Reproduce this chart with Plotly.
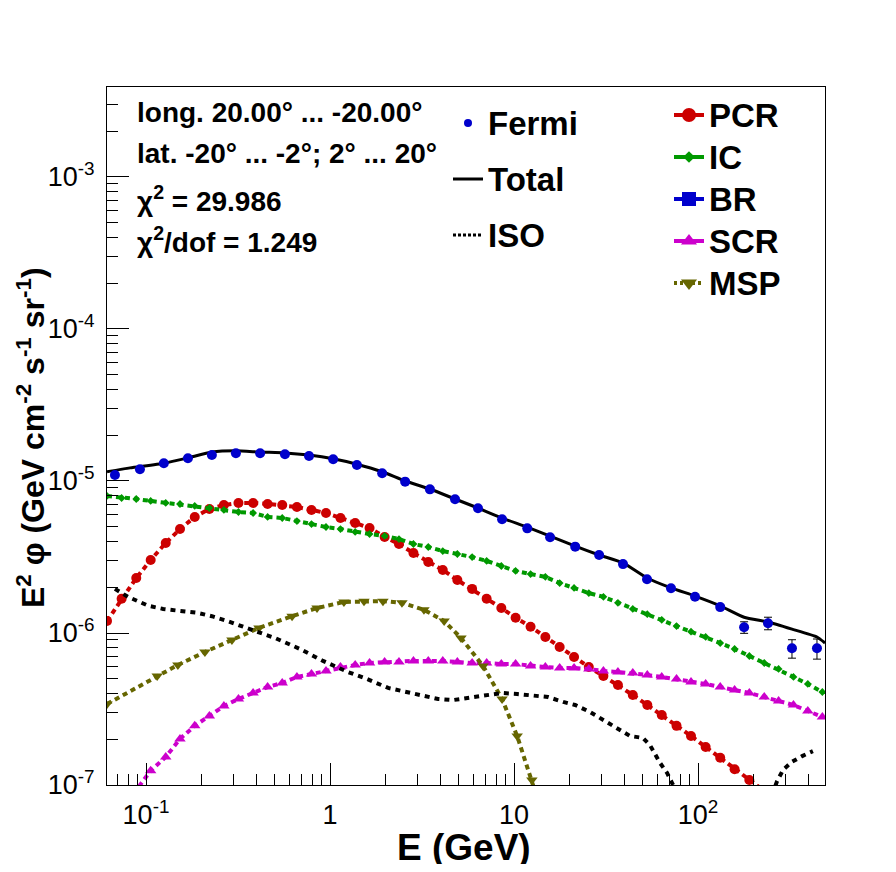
import plotly.graph_objects as go

# === Données ===
# Fermi
FERMI_E = [0.0678, 0.0927, 0.125, 0.169, 0.228, 0.308, 0.417, 0.569, 0.769, 1.04,
           1.40, 1.92, 2.56, 3.49, 4.78, 6.37, 8.61, 11.8, 15.7, 21.5,
           29.0, 39.1, 52.8, 71.3, 96.3, 132, 178, 240, 324, 443]
FERMI = [1.095e-5, 1.194e-5, 1.307e-5, 1.410e-5, 1.483e-5, 1.521e-5, 1.521e-5, 1.500e-5, 1.460e-5, 1.389e-5,
         1.274e-5, 1.124e-5, 9.90e-6, 8.81e-6, 7.58e-6, 6.61e-6, 5.60e-6, 4.88e-6, 4.26e-6, 3.70e-6,
         3.26e-6, 2.84e-6, 2.26e-6, 1.97e-6, 1.73e-6, 1.48e-6, 1.09e-6, 1.16e-6, 7.93e-7, 7.93e-7]
FERMI_ERR = [3e-7, 3e-7, 3e-7, 3e-7, 3e-7, 3e-7, 3e-7, 3e-7, 3e-7, 3e-7,
             3e-7, 2.5e-7, 2e-7, 2e-7, 1.6e-7, 1.4e-7, 1.2e-7, 1.0e-7, 9e-8, 8e-8,
             7e-8, 6e-8, 5e-8, 5e-8, 5e-8, 5e-8, 9.5e-8, 1.1e-7, 1.1e-7, 1.2e-7]

# Total
TOTAL_E = [0.0614, 0.0819, 0.125, 0.169, 0.228, 0.308, 0.417, 0.569, 0.769, 1.04,
           1.40, 1.92, 2.56, 3.49, 4.78, 6.37, 8.61, 11.8, 15.7, 21.5,
           29.0, 39.1, 52.8, 71.3, 96.3, 132, 178, 240, 324, 443, 490]
TOTAL = [1.15e-5, 1.22e-5, 1.31e-5, 1.42e-5, 1.55e-5, 1.58e-5, 1.55e-5, 1.53e-5, 1.48e-5, 1.40e-5,
         1.29e-5, 1.15e-5, 1.00e-5, 8.86e-6, 7.61e-6, 6.64e-6, 5.70e-6, 4.97e-6, 4.34e-6, 3.73e-6,
         3.26e-6, 2.89e-6, 2.30e-6, 1.98e-6, 1.75e-6, 1.51e-6, 1.27e-6, 1.18e-6, 1.06e-6, 9.41e-7, 8.59e-7]

# composantes du modèle (grille commune)
E_GRID = [0.0614, 0.0737, 0.0885, 0.106, 0.128, 0.153, 0.184, 0.221, 0.265, 0.318,
          0.382, 0.458, 0.550, 0.661, 0.793, 0.951, 1.14, 1.37, 1.64, 1.98,
          2.37, 2.84, 3.42, 4.10, 4.92, 5.92, 7.10, 8.53, 10.2, 12.3,
          14.8, 17.7, 21.2, 25.5, 30.6, 36.7, 44.2, 53.0, 63.5, 76.4,
          91.6, 110, 132, 158, 190, 229, 274, 330, 395, 474]
PCR = [1.20e-6, 1.68e-6, 2.30e-6, 3.02e-6, 3.91e-6, 4.83e-6, 5.80e-6, 6.55e-6, 6.95e-6, 7.17e-6,
       7.17e-6, 7.06e-6, 6.95e-6, 6.75e-6, 6.45e-6, 6.16e-6, 5.71e-6, 5.29e-6, 4.91e-6, 4.28e-6,
       3.85e-6, 3.36e-6, 2.93e-6, 2.60e-6, 2.23e-6, 1.95e-6, 1.68e-6, 1.46e-6, 1.26e-6, 1.10e-6,
       9.42e-7, 8.09e-7, 6.95e-7, 5.97e-7, 5.21e-7, 4.55e-7, 3.91e-7, 3.36e-7, 2.89e-7, 2.45e-7,
       2.10e-7, 1.78e-7, 1.51e-7, 1.27e-7, 1.08e-7, 9.14e-8, 7.75e-8, 6.57e-8, 5.57e-8, 4.72e-8]
IC = [7.97e-6, 7.73e-6, 7.61e-6, 7.39e-6, 7.17e-6, 7.06e-6, 6.85e-6, 6.64e-6, 6.45e-6, 6.25e-6,
      6.16e-6, 5.80e-6, 5.71e-6, 5.45e-6, 5.21e-6, 4.98e-6, 4.83e-6, 4.62e-6, 4.48e-6, 4.35e-6,
      4.15e-6, 3.85e-6, 3.68e-6, 3.46e-6, 3.31e-6, 3.16e-6, 2.98e-6, 2.76e-6, 2.56e-6, 2.44e-6,
      2.34e-6, 2.13e-6, 1.98e-6, 1.83e-6, 1.73e-6, 1.58e-6, 1.44e-6, 1.33e-6, 1.22e-6, 1.11e-6,
      1.02e-6, 9.42e-7, 8.59e-7, 7.85e-7, 7.06e-7, 6.35e-7, 5.80e-7, 5.14e-7, 4.62e-7, 4.09e-7]
SCR = [5.06e-8, 7.06e-8, 9.27e-8, 1.24e-7, 1.53e-7, 2.01e-7, 2.45e-7, 2.84e-7, 3.31e-7, 3.68e-7,
       4.03e-7, 4.41e-7, 4.69e-7, 5.14e-7, 5.37e-7, 5.62e-7, 5.97e-7, 6.16e-7, 6.35e-7, 6.45e-7,
       6.45e-7, 6.55e-7, 6.55e-7, 6.55e-7, 6.45e-7, 6.35e-7, 6.35e-7, 6.25e-7, 6.25e-7, 6.07e-7,
       5.97e-7, 5.89e-7, 5.89e-7, 5.80e-7, 5.62e-7, 5.54e-7, 5.45e-7, 5.29e-7, 5.14e-7, 4.98e-7,
       4.76e-7, 4.62e-7, 4.41e-7, 4.22e-7, 4.03e-7, 3.79e-7, 3.57e-7, 3.36e-7, 3.07e-7, 2.80e-7]

MSP_E = [0.0614, 0.115, 0.149, 0.209, 0.293, 0.411, 0.622, 0.850, 1.19, 1.53,
         1.94, 2.46, 3.24, 4.17, 5.15, 6.79, 8.61, 10.4, 12.5, 13.8]
MSP = [3.41e-7, 5.21e-7, 6.16e-7, 7.50e-7, 8.99e-7, 1.08e-6, 1.29e-6, 1.46e-6, 1.60e-6, 1.62e-6,
       1.62e-6, 1.58e-6, 1.42e-6, 1.20e-6, 9.27e-7, 6.07e-7, 3.68e-7, 2.10e-7, 1.08e-7, 7.28e-8]

ISO_E = [0.0678, 0.0798, 0.103, 0.124, 0.151, 0.189, 0.228, 0.276, 0.367, 0.502,
         0.687, 0.916, 1.25, 1.59, 2.07, 2.56, 3.87, 4.66, 5.76, 8.61,
         10.4, 15.3, 18.5, 21.5, 25.9, 30.5, 36.3, 42.7, 50.2, 54.8,
         62.1, 67.9, 72.3, 77.8, None, 252, 269, 290, 324, 368, 421]
ISO = [1.95e-6, 1.73e-6, 1.51e-6, 1.44e-6, 1.40e-6, 1.36e-6, 1.29e-6, 1.20e-6, 1.06e-6, 9.27e-7,
       7.85e-7, 6.55e-7, 5.54e-7, 4.98e-7, 4.35e-7, 4.09e-7, 3.68e-7, 3.62e-7, 3.74e-7, 4.03e-7,
       3.97e-7, 3.79e-7, 3.52e-7, 3.36e-7, 3.02e-7, 2.68e-7, 2.33e-7, 2.10e-7, 2.04e-7, 1.83e-7,
       1.40e-7, 1.20e-7, 1.03e-7, 8.6e-8, None, 8.6e-8, 1.06e-7, 1.26e-7, 1.42e-7, 1.55e-7, 1.67e-7]

X_TICKS = [0.1, 1, 10, 100]
X_TICK_TEXT = ["10<sup>-1</sup>", "1", "10", "10<sup>2</sup>"]
Y_TICKS = [1e-7, 1e-6, 1e-5, 1e-4, 1e-3]
Y_TICK_TEXT = ["10<sup>-7</sup>", "10<sup>-6</sup>", "10<sup>-5</sup>", "10<sup>-4</sup>", "10<sup>-3</sup>"]

INFO_LINES = ["long. 20.00° ... -20.00°",
              "lat. -20° ... -2°; 2° ... 20°",
              "χ<sup>2</sup> = 29.986",
              "χ<sup>2</sup>/dof = 1.249"]

FONT = "Liberation Sans, Arial, sans-serif"
RED, GREEN, BLUE, MAGENTA, OLIVE = "#cc0000", "#009900", "#0000cc", "#cc00cc", "#666600"

# la page ajoute 8px de marge autour de la figure
OFF = 8
W, H = 896 - 2 * OFF, 872 - 2 * OFF
L, R, T, B = 107, 825, 87, 785   # cadre, en pixels de l'écran


def px(x):
    return (x - L) / (R - L)


def py(y):
    return (B - y) / (B - T)


def big(txt):
    return "<span style='font-size:33px'>" + txt + "</span>"


fig = go.Figure()

# === Courbes du modèle ===
components = [
    ("PCR", E_GRID, PCR, RED, "circle", 10),
    ("IC", E_GRID, IC, GREEN, "diamond", 6),
    ("SCR", E_GRID, SCR, MAGENTA, "triangle-up", 10),
    ("MSP", MSP_E, MSP, OLIVE, "triangle-down", 10),
]
for name, xs, ys, col, sym, size in components:
    fig.add_trace(go.Scatter(x=xs, y=ys, mode="lines+markers", showlegend=False,
                             line=dict(color=col, width=4, dash="5px,4px"),
                             marker=dict(color=col, symbol=sym, size=size, line=dict(width=0))))

fig.add_trace(go.Scatter(x=ISO_E, y=ISO, mode="lines", showlegend=False, connectgaps=False,
                         line=dict(color="black", width=4, dash="5px,5px")))

fig.add_trace(go.Scatter(x=TOTAL_E, y=TOTAL, mode="lines", showlegend=False,
                         line=dict(color="black", width=3, shape="spline", smoothing=0.5)))

fig.add_trace(go.Scatter(x=FERMI_E, y=FERMI, mode="markers", showlegend=False,
                         error_y=dict(type="data", array=FERMI_ERR, color="black", thickness=1, width=4),
                         marker=dict(color=BLUE, size=10, line=dict(width=0))))

# === Légendes ===
fig.add_trace(go.Scatter(x=[None], y=[None], mode="markers", name=big("Fermi"), legend="legend",
                         legendgroup="a", marker=dict(color=BLUE, size=8)))
fig.add_trace(go.Scatter(x=[None], y=[None], mode="lines", name=big("Total"), legend="legend",
                         legendgroup="b", line=dict(color="black", width=3)))
fig.add_trace(go.Scatter(x=[None], y=[None], mode="lines", name=big("ISO"), legend="legend",
                         legendgroup="c", line=dict(color="black", width=3, dash="3px,2px")))

for name, col, sym, dash in [("PCR", RED, "circle", "solid"), ("IC", GREEN, "diamond", "solid"),
                             ("BR", BLUE, "square", "solid"), ("SCR", MAGENTA, "triangle-up", "solid"),
                             ("MSP", OLIVE, "triangle-down", "3px,3px")]:
    fig.add_trace(go.Scatter(x=[None], y=[None], mode="lines+markers", name=big(name), legend="legend2",
                             line=dict(color=col, width=4, dash=dash),
                             marker=dict(color=col, symbol=sym, size=14 if sym != "diamond" else 9)))

legend_font = dict(family=FONT, size=30, color="black", weight="bold")
fig.update_layout(
    legend=dict(x=px(448), y=py(97), xanchor="left", yanchor="top", font=legend_font,
                bgcolor="rgba(0,0,0,0)", tracegroupgap=14, itemwidth=30),
    legend2=dict(x=px(669), y=py(89), xanchor="left", yanchor="top", font=legend_font,
                 bgcolor="rgba(0,0,0,0)", itemwidth=30),
)

# === Texte ===
for txt, yy in zip(INFO_LINES, [112, 153, 199, 240]):
    fig.add_annotation(x=px(135), y=py(yy), xref="paper", yref="paper", text=txt,
                       showarrow=False, xanchor="left", yanchor="middle",
                       font=dict(family=FONT, size=28, color="black", weight="bold"))

fig.add_annotation(x=px(464), y=py(847), xref="paper", yref="paper", text="E (GeV)",
                   showarrow=False, xanchor="center", yanchor="middle", height=34,
                   font=dict(family=FONT, size=37, color="black", weight="bold"))
fig.add_annotation(x=px(31), y=py(438), xref="paper", yref="paper", textangle=-90,
                   text="E<sup>2</sup> φ (GeV cm<sup>-2</sup> s<sup>-1</sup> sr<sup>-1</sup>)",
                   showarrow=False, xanchor="center", yanchor="middle",
                   font=dict(family=FONT, size=32, color="black", weight="bold"))

# === Axes ===
x_minor = [m * 10 ** d for d in range(-2, 3) for m in range(2, 10)]
y_minor = [m * 10 ** d for d in range(-7, -2) for m in range(2, 10)]

fig.update_xaxes(type="log", range=[-1.212, 2.690], showline=True, linecolor="black", linewidth=1,
                 mirror=True, showgrid=False, zeroline=False,
                 tickmode="array", tickvals=X_TICKS, ticktext=X_TICK_TEXT,
                 ticks="inside", ticklen=22, tickwidth=1, tickcolor="black", ticklabelstandoff=6,
                 tickfont=dict(family=FONT, size=27, color="black"),
                 minor=dict(tickmode="array", tickvals=x_minor, ticks="inside", ticklen=11,
                            tickwidth=1, tickcolor="black", showgrid=False))
fig.update_yaxes(type="log", range=[-7, -2.408], showline=True, linecolor="black", linewidth=1,
                 mirror=True, showgrid=False, zeroline=False,
                 tickmode="array", tickvals=Y_TICKS, ticktext=Y_TICK_TEXT,
                 ticks="inside", ticklen=22, tickwidth=1, tickcolor="black", ticklabelstandoff=6,
                 tickfont=dict(family=FONT, size=27, color="black"),
                 minor=dict(tickmode="array", tickvals=y_minor, ticks="inside", ticklen=11,
                            tickwidth=1, tickcolor="black", showgrid=False))

fig.update_layout(width=W, height=H,
                  margin=dict(l=L - OFF, r=W - (R - OFF), t=T - OFF, b=H - (B - OFF)),
                  paper_bgcolor="white", plot_bgcolor="white",
                  font=dict(family=FONT, color="black"))

fig.write_html("out.html")
